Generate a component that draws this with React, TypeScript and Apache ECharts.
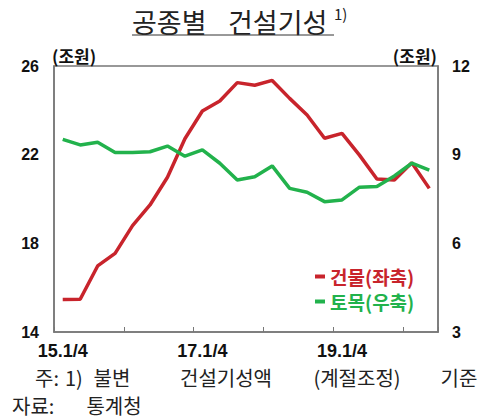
import React, { useEffect, useRef } from "react";
import * as echarts from "echarts";

const categories = [
  "15.1/4", "15.2/4", "15.3/4", "15.4/4",
  "16.1/4", "16.2/4", "16.3/4", "16.4/4",
  "17.1/4", "17.2/4", "17.3/4", "17.4/4",
  "18.1/4", "18.2/4", "18.3/4", "18.4/4",
  "19.1/4", "19.2/4", "19.3/4", "19.4/4",
  "20.1/4", "20.2/4",
];

const buildingValues = [
  15.47, 15.48, 16.98, 17.55, 18.8, 19.73, 20.98, 22.72, 23.97, 24.42, 25.25,
  25.13, 25.35, 24.54, 23.79, 22.74, 22.96, 21.98, 20.9, 20.86, 21.64, 20.48,
];

const civilValues = [
  9.52, 9.33, 9.42, 9.07, 9.07, 9.1, 9.29, 8.95, 9.16, 8.71, 8.14, 8.25, 8.62,
  7.86, 7.73, 7.41, 7.47, 7.9, 7.92, 8.28, 8.71, 8.48,
];

const leftTicks = { min: 14, max: 26, interval: 4 };
const rightTicks = { min: 3, max: 12, interval: 3 };

const seriesNames = ["건물(좌축)", "토목(우축)"];
const RED = "#c8242c";
const GREEN = "#22b24c";

const SANS = "'Liberation Sans', Arial, 'Noto Sans CJK KR', sans-serif";
const KR = "'Noto Sans CJK KR', sans-serif";

export default function App() {
  const ref = useRef<HTMLDivElement>(null);
  useEffect(() => {
    if (!ref.current) return;
    const chart = echarts.init(ref.current, null, { renderer: "svg" });
    const serifText = (text: string, x: number, y: number, size: number, align = "left") => ({
      type: "text",
      x,
      y,
      style: {
        text,
        fontSize: size,
        lineHeight: size + 1,
        fontFamily: KR,
        fontWeight: "normal",
        fill: "#222",
        align,
        verticalAlign: "middle",
      },
    });
    chart.setOption({
      animation: false,
      backgroundColor: "#ffffff",
      grid: {
        left: 54,
        right: 45,
        top: 66,
        bottom: 88,
        show: true,
        borderColor: "#777",
        borderWidth: 1.5,
        containLabel: false,
      },
      legend: {
        orient: "vertical",
        left: 310,
        top: 262,
        itemWidth: 10,
        itemHeight: 4,
        itemGap: 6,
        icon: "rect",
        data: [
          { name: seriesNames[0], textStyle: { color: RED } },
          { name: seriesNames[1], textStyle: { color: GREEN } },
        ],
        textStyle: { fontSize: 19, fontWeight: "bold", fontFamily: KR },
      },
      xAxis: {
        type: "category",
        data: categories,
        boundaryGap: true,
        axisLine: { lineStyle: { color: "#777", width: 1.5 } },
        axisTick: { show: true, inside: true, interval: 3, length: 5, lineStyle: { color: "#777" } },
        axisLabel: {
          interval: 7,
          margin: 10,
          fontSize: 18,
          fontWeight: "bold",
          fontFamily: SANS,
          color: "#111",
        },
        splitLine: { show: false },
      },
      yAxis: [
        {
          type: "value",
          ...leftTicks,
          position: "left",
          axisLine: { show: true, lineStyle: { color: "#777", width: 1.5 } },
          axisTick: { show: false },
          splitLine: { show: false },
          axisLabel: { margin: 15, fontSize: 16, fontWeight: "bold", fontFamily: SANS, color: "#111" },
        },
        {
          type: "value",
          ...rightTicks,
          position: "right",
          axisLine: { show: true, lineStyle: { color: "#777", width: 1.5 } },
          axisTick: { show: false },
          splitLine: { show: false },
          axisLabel: { margin: 14, fontSize: 16, fontWeight: "bold", fontFamily: SANS, color: "#111" },
        },
      ],
      series: [
        {
          name: seriesNames[0],
          type: "line",
          yAxisIndex: 0,
          data: buildingValues,
          showSymbol: false,
          symbol: "none",
          lineStyle: { color: RED, width: 3.5 },
          itemStyle: { color: RED },
        },
        {
          name: seriesNames[1],
          type: "line",
          yAxisIndex: 1,
          data: civilValues,
          showSymbol: false,
          symbol: "none",
          lineStyle: { color: GREEN, width: 3.5 },
          itemStyle: { color: GREEN },
        },
      ],
      graphic: [
        serifText("공종별", 132, 21, 27),
        serifText("건설기성", 228, 21, 27),
        {
          type: "text",
          x: 334,
          y: 13,
          style: { text: "1)", fontSize: 15, fontFamily: KR, fill: "#222", verticalAlign: "middle" },
        },
        {
          type: "line",
          shape: { x1: 132, y1: 35, x2: 334, y2: 35 },
          style: { stroke: "#333", lineWidth: 1 },
        },
        {
          type: "text",
          x: 52,
          y: 55,
          style: { text: "(조원)", fontSize: 17, fontWeight: "bold", fontFamily: KR, fill: "#111", verticalAlign: "middle" },
        },
        {
          type: "text",
          x: 437,
          y: 55,
          style: { text: "(조원)", fontSize: 17, fontWeight: "bold", fontFamily: KR, fill: "#111", align: "right", verticalAlign: "middle" },
        },
        serifText("주:", 35, 377, 20),
        serifText("1)", 65, 377, 20),
        serifText("불변", 112, 377, 20, "center"),
        serifText("건설기성액", 226, 377, 20, "center"),
        serifText("(계절조정)", 357, 377, 20, "center"),
        serifText("기준", 459, 377, 20, "center"),
        serifText("자료:", 12, 405, 20),
        serifText("통계청", 114, 405, 20, "center"),
      ],
    });
    return () => chart.dispose();
  }, []);
  return <div ref={ref} style={{ width: 483, height: 420, position: "absolute", left: 0, top: 0 }} />;
}
